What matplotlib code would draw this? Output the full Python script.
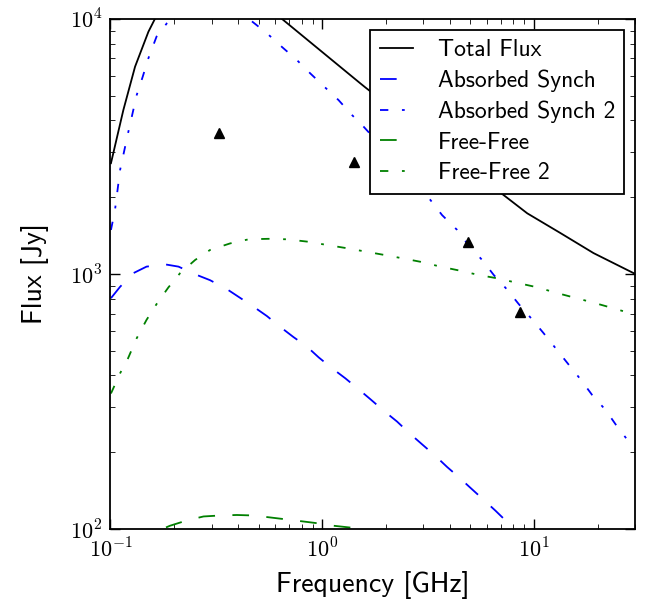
import matplotlib
matplotlib.use("Agg")
import matplotlib.pyplot as plt
from matplotlib.ticker import FuncFormatter
import numpy as np

# values (GHz, Jy)
total_freq = [0.1005, 0.115, 0.1306, 0.151, 0.162, 0.316, 0.646, 1.51, 1.596,
              6.95, 9.29, 13.3, 19.1, 29.6]
total_flux = [2720, 4395, 6500, 8910, 10000, 15800, 10000, 5600, 5395,
              2084, 1730, 1449, 1208, 1007]

sync_freq = [0.1005, 0.111, 0.128, 0.148, 0.181, 0.2094, 0.256, 0.295, 0.354,
             0.473, 0.548, 0.632, 0.731, 0.847, 0.962, 1.112, 1.285, 1.486,
             1.687, 1.95, 2.254, 2.588, 2.958, 3.388, 3.89, 4.406, 5.012,
             5.794, 6.577, 7.603, 8.017, 10.0]
sync_flux = [804, 891, 1007, 1069, 1091, 1069, 991, 946, 873,
             745, 684, 621, 566, 519, 471, 427, 390, 353,
             323, 291, 264, 237, 215, 195, 175, 160, 145,
             130, 118, 105, 99.8, 89]

sync2_freq = [0.1005, 0.105, 0.111, 0.121, 0.133, 0.142, 0.151, 0.165, 0.1845,
              0.282, 0.457, 0.548, 0.644, 0.759, 0.877, 1.021, 1.194, 1.38,
              1.567, 3.243, 3.681, 4.335, 4.831, 5.689, 6.457, 7.464, 8.472,
              9.795, 11.12, 12.76, 14.62, 16.6, 18.84, 21.78, 24.72, 28.05, 30.2]
sync2_flux = [1489, 1782, 2559, 3565, 5035, 5943, 7015, 8531, 9616,
              13200, 9908, 8790, 7780, 6902, 6124, 5433, 4808, 4207,
              3784, 1950, 1702, 1489, 1318, 1135, 991, 869, 762,
              664, 585, 507, 440, 386, 335, 293, 252, 220, 206]

ff_freq = [0.1005, 0.1746, 0.191, 0.229, 0.275, 0.33, 0.395, 0.473, 0.568,
           0.681, 0.817, 0.98, 1.13, 1.406, 1.687, 3.16]
ff_flux = [70.8, 99.8, 103, 108, 112, 113, 113.5, 113, 111,
           109, 107, 105, 103, 101, 99, 89]

ff2_freq = [0.1005, 0.111, 0.121, 0.133, 0.148, 0.165, 0.1875, 0.213, 0.251,
            0.295, 0.367, 0.449, 0.557, 0.681, 0.847, 1.052, 1.309, 1.596,
            1.95, 2.382, 2.904, 3.614, 4.487, 5.483, 6.699, 8.337, 10.35,
            12.65, 15.42, 19.19, 23.82, 28.58, 30.2]
ff2_flux = [340, 408, 467, 560, 661, 762, 885, 1007, 1135,
            1242, 1318, 1368, 1374, 1368, 1340, 1300, 1262, 1225,
            1189, 1153, 1117, 1069, 1030, 991, 962, 923, 887,
            845, 809, 771, 733, 701, 690]

obs_freq = [0.327, 1.41, 4.86, 8.57]
obs_flux = [3560, 2750, 1340, 708]

plt.rcParams["mathtext.fontset"] = "cm"
plt.rcParams["lines.scale_dashes"] = False
plt.rcParams["xtick.direction"] = "in"
plt.rcParams["ytick.direction"] = "in"
plt.rcParams["xtick.top"] = True
plt.rcParams["ytick.right"] = True
plt.rcParams["xtick.major.size"] = 7
plt.rcParams["ytick.major.size"] = 7
plt.rcParams["xtick.minor.size"] = 3.5
plt.rcParams["ytick.minor.size"] = 3.5
plt.rcParams["xtick.major.width"] = 1.0
plt.rcParams["ytick.major.width"] = 1.0
plt.rcParams["axes.linewidth"] = 1.3

sans = ["cmss10", "DejaVu Sans"]

fig = plt.figure(figsize=(6.55, 6.05), dpi=100)
ax = fig.add_axes([0.1687, 0.1256, 0.8008, 0.843])

dashed = (0, (12, 12.5))
dashdot = (0, (6, 9.8, 2, 9.8))
ax.plot(total_freq, total_flux, color="k", lw=1.3, label="Total Flux")
ax.plot(sync_freq, sync_flux, color="b", lw=1.3, ls=dashed, label="Absorbed Synch")
ax.plot(sync2_freq, sync2_flux, color="b", lw=1.3, ls=dashdot, label="Absorbed Synch 2")
ax.plot(ff_freq, ff_flux, color="g", lw=1.3, ls=dashed, label="Free-Free")
ax.plot(ff2_freq, ff2_flux, color="g", lw=1.3, ls=dashdot, label="Free-Free 2")
ax.plot(obs_freq, obs_flux, "k^", ms=7, ls="none")

ax.set_xscale("log")
ax.set_yscale("log")
ax.set_xlim(0.1, 30)
ax.set_ylim(100, 10000)

fmt = FuncFormatter(lambda v, p: r"$10^{%d}$" % round(np.log10(v)))
ax.xaxis.set_major_formatter(fmt)
ax.yaxis.set_major_formatter(fmt)
ax.tick_params(labelsize=16, pad=6)

ax.set_xlabel("Frequency [GHz]", family=sans, fontsize=20, labelpad=7)
ax.set_ylabel("Flux [Jy]", family=sans, fontsize=20, labelpad=15)

leg = ax.legend(loc="upper right", prop={"family": sans, "size": 17},
                fancybox=False, framealpha=1, edgecolor="k",
                handlelength=1.4, handletextpad=1.05, borderaxespad=0.45,
                labelspacing=0.36, borderpad=0.4)
leg.get_frame().set_linewidth(1.3)

fig.savefig("out.png", dpi=100)
